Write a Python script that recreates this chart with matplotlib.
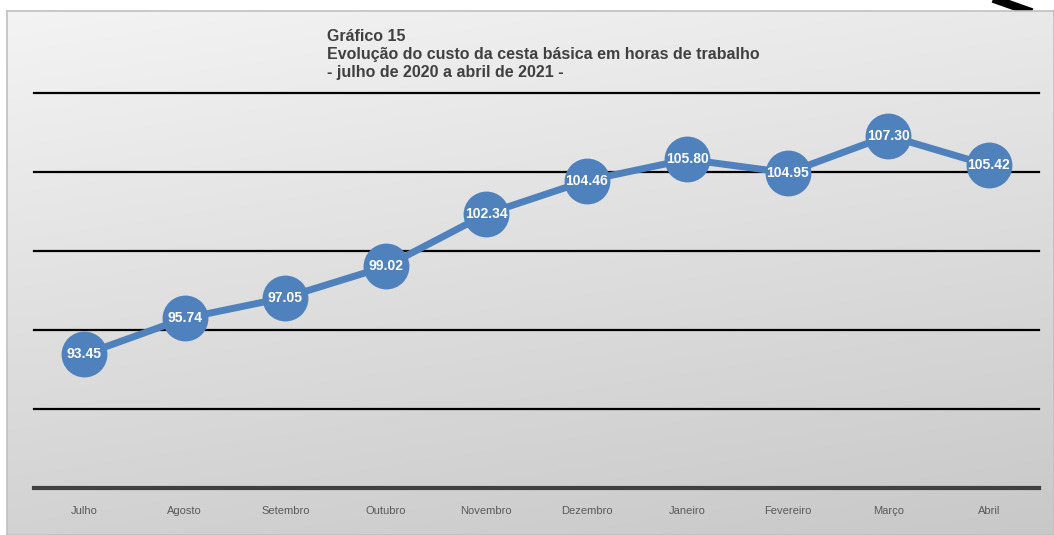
import matplotlib
matplotlib.use("Agg")
import matplotlib.pyplot as plt
import numpy as np
from matplotlib.lines import Line2D

MONTHS = ["Julho", "Agosto", "Setembro", "Outubro", "Novembro", "Dezembro",
          "Janeiro", "Fevereiro", "Março", "Abril"]
HOURS = [93.45, 95.74, 97.05, 99.02, 102.34, 104.46, 105.80, 104.95, 107.30, 105.42]
GRID_TICKS = [85, 90, 95, 100, 105, 110]

TITLE = ("Gráfico 15\n"
         "Evolução do custo da cesta básica em horas de trabalho\n"
         "- julho de 2020 a abril de 2021 -")

BLUE = "#4f81bd"
INK = "#404040"
TICK = "#595959"

plt.rcParams["font.family"] = ["Liberation Sans", "DejaVu Sans"]

W, H = 1054, 535
fig = plt.figure(figsize=(W / 100, H / 100), dpi=100)
fig.patch.set_facecolor("white")

# stray pen stroke in the top right corner of the scan
fig.add_artist(Line2D([997 / W, 1028 / W], [1, 1 - 11 / H], color="black",
                      linewidth=6, transform=fig.transFigure, zorder=0))

# chart frame with a soft grey gradient
bg = fig.add_axes([7 / W, 0, 1 - 7 / W, 1 - 11 / H], zorder=1)
yy, xx = np.mgrid[0:1:200j, 0:1:200j]
shade = 0.955 - 0.13 * yy - 0.04 * xx
bg.imshow(np.dstack([shade] * 3), extent=(0, 1, 0, 1), aspect="auto", origin="upper")
bg.set_xticks([])
bg.set_yticks([])
for s in bg.spines.values():
    s.set_color("#c0c0c0")
    s.set_linewidth(1.2)

ax = fig.add_axes([34 / W, 1 - 488 / H, (1039 - 34) / W, (488 - 93) / H], zorder=2)
ax.patch.set_alpha(0)
x = np.arange(len(MONTHS))
ax.plot(x, HOURS, color=BLUE, linewidth=5, marker="o", markersize=33,
        markeredgewidth=0, zorder=3, clip_on=False)
for xi, v in zip(x, HOURS):
    ax.text(xi, v, f"{v:.2f}", ha="center", va="center", color="white",
            fontsize=10, fontweight="bold", zorder=4)

ax.set_xlim(-0.5, len(MONTHS) - 0.5)
ax.set_ylim(GRID_TICKS[0], GRID_TICKS[-1])
ax.set_yticks(GRID_TICKS)
ax.set_yticklabels([])
ax.grid(axis="y", color="black", linewidth=1.6, zorder=1)
for gl in ax.yaxis.get_gridlines():
    gl.set_clip_on(False)
ax.set_axisbelow(True)
ax.set_xticks(x)
ax.set_xticklabels(MONTHS, fontsize=8, color=TICK)
ax.tick_params(length=0, pad=13)
for s in ("top", "right", "left"):
    ax.spines[s].set_visible(False)
ax.spines["bottom"].set_color(INK)
ax.spines["bottom"].set_linewidth(3)

fig.text(327 / W, 1 - 29 / H, TITLE, ha="left", va="top", fontsize=11.5,
         fontweight="bold", color=INK, linespacing=1.25, zorder=5)

fig.savefig("out.png", dpi=100)
